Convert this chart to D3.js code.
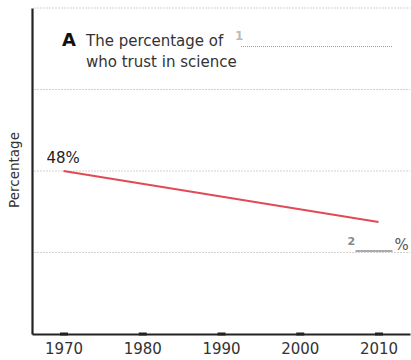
<!DOCTYPE html>
<html>
<head>
<meta charset="utf-8">
<script src="https://cdn.jsdelivr.net/npm/d3@7"></script>
<style>
  html, body { margin: 0; padding: 0; background: #fff; }
  svg { display: block; font-family: "DejaVu Sans", "Noto Sans", sans-serif; }
</style>
</head>
<body>
<svg id="chart" width="411" height="360"></svg>
<script>
// Share of people who trust in science
const years = [1970, 2010];
const trust = [48, 33];
const xTicks = [1970, 1980, 1990, 2000, 2010];
const gridValues = [24, 48, 72, 96];
const startLabel = "48%";
const yLabel = "Percentage";
const titleLetter = "A";
const titleLines = ["The percentage of", "who trust in science"];

const svg = d3.select("#chart");

const x = d3.scaleLinear().domain([1966, 2014]).range([32, 410]);
const y = d3.scaleLinear().domain([0, 96]).range([334, 8]);

// light dotted gridlines
svg.append("g")
  .selectAll("line")
  .data(gridValues)
  .join("line")
  .attr("x1", x(1966) + 2)
  .attr("x2", x(2014))
  .attr("y1", d => y(d))
  .attr("y2", d => y(d))
  .attr("stroke", "#d2d2d2")
  .attr("stroke-width", 1)
  .attr("stroke-dasharray", "2,1");

// x axis
const xAxis = d3.axisBottom(x)
  .tickValues(xTicks)
  .tickFormat(d3.format("d"))
  .tickSize(0)
  .tickPadding(9);
const gx = svg.append("g").attr("transform", `translate(0,${y(0)})`).call(xAxis);
gx.select(".domain").attr("stroke", "#222").attr("stroke-width", 2.2);
gx.selectAll("text").attr("font-size", 15).attr("fill", "#333")
  .attr("font-family", "'DejaVu Sans', sans-serif");
// small square tick marks on the axis
gx.selectAll(".tick").append("rect")
  .attr("x", -4).attr("y", -1.5).attr("width", 8).attr("height", 3)
  .attr("fill", "#222");

// y axis (no labels)
const yAxis = d3.axisLeft(y).tickValues([]).tickSize(0);
const gy = svg.append("g").attr("transform", `translate(${x(1966)},0)`).call(yAxis);
gy.select(".domain").attr("stroke", "#222").attr("stroke-width", 2.2);

// y-axis title
svg.append("text")
  .attr("transform", `translate(19,170) rotate(-90)`)
  .attr("text-anchor", "middle")
  .attr("font-size", 13.5)
  .attr("fill", "#333")
  .text(yLabel);

// trend line
const pts = years.map((yr, i) => [yr, trust[i]]);
svg.append("path")
  .datum(pts)
  .attr("d", d3.line().x(d => x(d[0])).y(d => y(d[1])))
  .attr("fill", "none")
  .attr("stroke", "#e04a55")
  .attr("stroke-width", 2);

// start value label
svg.append("text")
  .attr("x", x(years[0]) - 17)
  .attr("y", y(trust[0]) - 8)
  .attr("font-size", 15)
  .attr("fill", "#222")
  .text(startLabel);

// end value blank: "2 ____ %"
const ex = x(years[1]), ey = y(trust[1]);
svg.append("text")
  .attr("x", ex - 31).attr("y", ey + 23)
  .attr("font-size", 11).attr("font-weight", "bold").attr("fill", "#888")
  .text("2");
svg.append("line")
  .attr("x1", ex - 23).attr("x2", ex + 14)
  .attr("y1", ey + 29).attr("y2", ey + 29)
  .attr("stroke", "#aaa").attr("stroke-width", 2);
svg.append("text")
  .attr("x", ex + 16).attr("y", ey + 28)
  .attr("font-size", 15).attr("fill", "#555")
  .text("%");

// title block
svg.append("text")
  .attr("x", 62).attr("y", 46)
  .attr("font-size", 18).attr("font-weight", "bold").attr("fill", "#111")
  .text(titleLetter);
svg.append("text")
  .attr("x", 86).attr("y", 45.5)
  .attr("font-size", 15).attr("fill", "#333")
  .text(titleLines[0]);
svg.append("text")
  .attr("x", 235).attr("y", 40)
  .attr("font-size", 12).attr("font-weight", "bold").attr("fill", "#bbb")
  .text("1");
svg.append("line")
  .attr("x1", 241).attr("x2", 392)
  .attr("y1", 46.5).attr("y2", 46.5)
  .attr("stroke", "#999").attr("stroke-width", 1)
  .attr("stroke-dasharray", "1,1");
svg.append("text")
  .attr("x", 86).attr("y", 67)
  .attr("font-size", 15).attr("fill", "#333")
  .text(titleLines[1]);
</script>
</body>
</html>
